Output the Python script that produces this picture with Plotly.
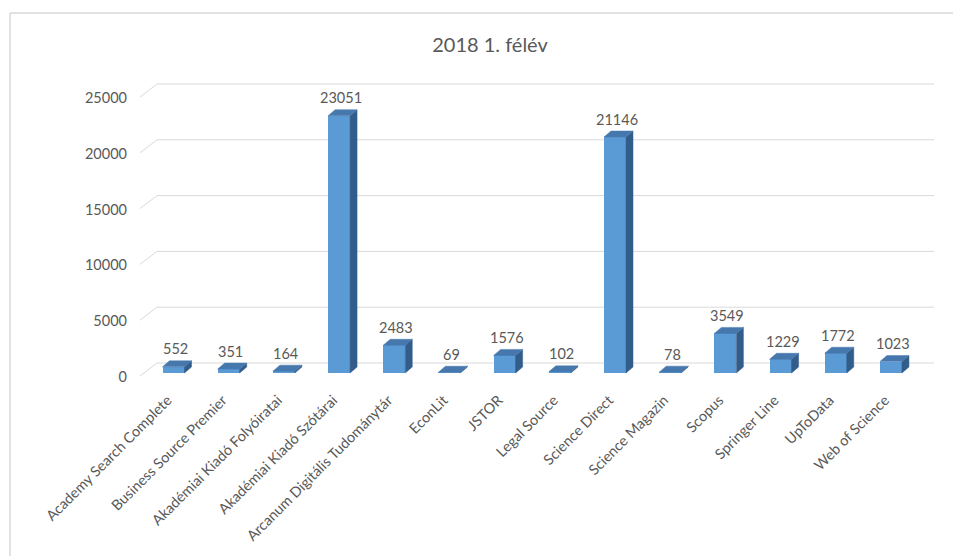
import plotly.graph_objects as go

categories = ["Academy Search Complete", "Business Source Premier", "Akadémiai Kiadó Folyóiratai",
              "Akadémiai Kiadó Szótárai", "Arcanum Digitális Tudománytár", "EconLit", "JSTOR",
              "Legal Source", "Science Direct", "Science Magazin", "Scopus", "Springer Line",
              "UpToData", "Web of Science"]
values = [552, 351, 164, 23051, 2483, 69, 1576, 102, 21146, 78, 3549, 1229, 1772, 1023]
y_ticks = [0, 5000, 10000, 15000, 20000, 25000]
title_text = "2018 1. félév"

# the page body adds an 8px margin; compensate
OFF = 8
W, H = 961 - OFF, 556 - OFF
L, T = 140 - OFF, 80 - OFF
PR, PB = 934 - OFF, 380 - OFF       # plot right / bottom in figure px
R, B = W - PR, H - PB
plot_w = PR - L
plot_h = PB - T
x0, x1 = -0.607, 13.78
upx = (x1 - x0) / plot_w          # x units per px
vpx = 25000 / 279                 # y units per px
y0 = -(380 - 373) * vpx
y1 = (373 - 80) * vpx

half = 11 * upx
dx = 7 * upx
dy = 6 * vpx

FRONT = "#5B9BD5"
TOP = "#4678AD"
SIDE = "#325D8A"
GRID = "#D9D9D9"
TXT = "#595959"
FONT = "Lato, sans-serif"
FS = 14.5

fig = go.Figure()

shapes = []
# gridlines with slanted side wall (behind the bars)
for t in y_ticks:
    shapes.append(dict(type="line", xref="x", yref="y", layer="below",
                       x0=x0, y0=t - 3 * vpx, x1=x0 + 17 * upx, y1=t + 10 * vpx,
                       line=dict(color=GRID, width=1)))
    shapes.append(dict(type="line", xref="x", yref="y", layer="below",
                       x0=x0 + 17 * upx, y0=t + 10 * vpx, x1=x1, y1=t + 10 * vpx,
                       line=dict(color=GRID, width=1)))

xs = list(range(len(categories)))

# side faces
sx, sy = [], []
for i, v in zip(xs, values):
    sx += [i + half, i + half, i + half + dx, i + half + dx, i + half, None]
    sy += [0, v, v + dy, dy, 0, None]
fig.add_trace(go.Scatter(x=sx, y=sy, mode="lines", fill="toself", fillcolor=SIDE,
                         line=dict(color=SIDE, width=0.5), hoverinfo="skip", showlegend=False))

# top faces
tx, ty = [], []
for i, v in zip(xs, values):
    tx += [i - half, i + half, i + half + dx, i - half + dx, i - half, None]
    ty += [v, v, v + dy, v + dy, v, None]
fig.add_trace(go.Scatter(x=tx, y=ty, mode="lines", fill="toself", fillcolor=TOP,
                         line=dict(color=TOP, width=0.5), hoverinfo="skip", showlegend=False))

# front faces
fig.add_trace(go.Bar(x=xs, y=values, width=2 * half, marker=dict(color=FRONT, line=dict(width=0)),
                     hoverinfo="skip", showlegend=False))

annotations = []
for i, v in zip(xs, values):
    annotations.append(dict(x=i + 2 * upx, y=v, text=str(v), showarrow=False, yshift=18,
                            font=dict(family=FONT, size=FS, color=TXT)))

# chart border (left and top)
bx = (10 - OFF - L) / plot_w
by = (PB - (13 - OFF)) / plot_h
shapes.append(dict(type="line", xref="paper", yref="paper", x0=bx, x1=bx, y0=by,
                   y1=(PB - H - 5) / plot_h, line=dict(color=GRID, width=1.5)))
shapes.append(dict(type="line", xref="paper", yref="paper", x0=bx, x1=(W + 5 - L) / plot_w,
                   y0=by, y1=by, line=dict(color=GRID, width=1.5)))

fig.update_layout(
    width=W, height=H,
    margin=dict(l=L, r=R, t=T, b=B, pad=0),
    paper_bgcolor="white", plot_bgcolor="white",
    title=dict(text=title_text, x=(490 - OFF) / W, xanchor="center", y=1 - (45 - OFF) / H,
               yanchor="middle", font=dict(family=FONT, size=20, color=TXT)),
    annotations=annotations,
    shapes=shapes,
    bargap=0,
    xaxis=dict(range=[x0, x1], tickmode="array", tickvals=xs, ticktext=categories,
               tickangle=-45, showgrid=False, zeroline=False, showline=False, ticks="",
               ticklabelstandoff=8, ticklabelshift=-6,
               tickfont=dict(family=FONT, size=FS, color=TXT)),
    yaxis=dict(range=[y0, y1], tickmode="array", tickvals=[t - 4 * vpx for t in y_ticks],
               ticktext=[str(t) for t in y_ticks],
               showgrid=False, zeroline=False, showline=False, ticks="", ticklabelstandoff=12,
               tickfont=dict(family=FONT, size=FS, color=TXT)),
)

fig.write_html("out.html")
